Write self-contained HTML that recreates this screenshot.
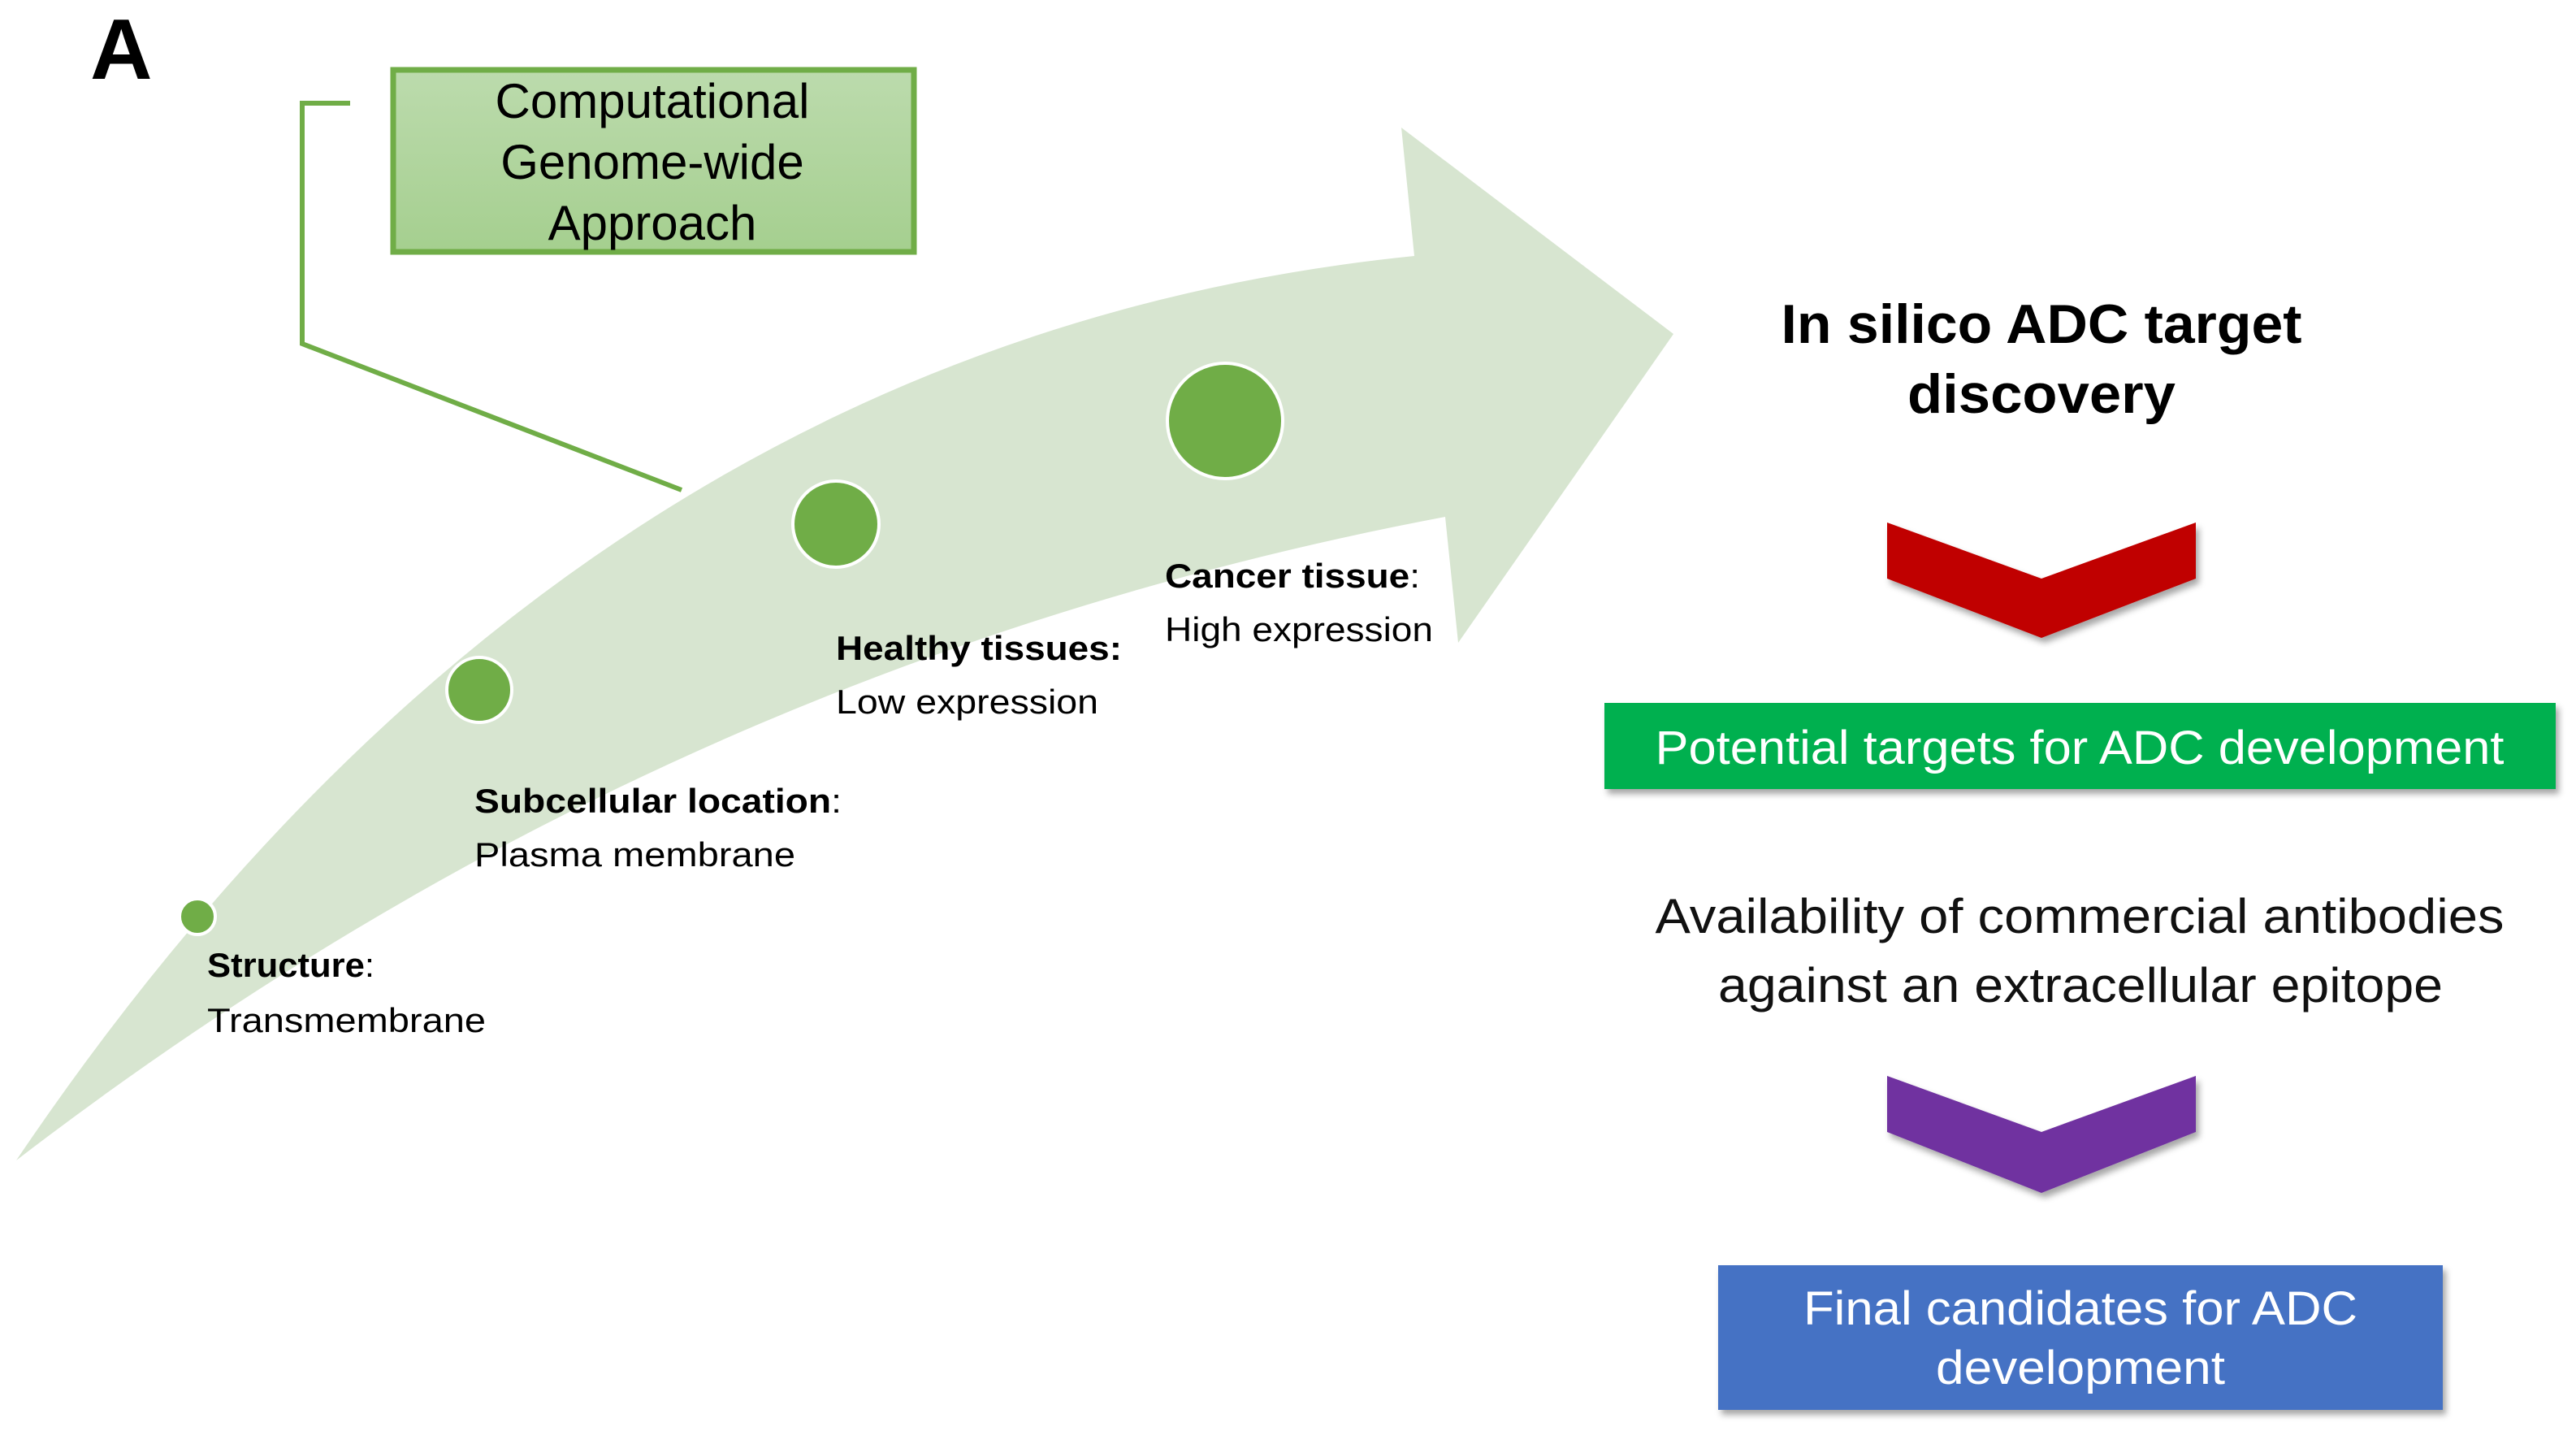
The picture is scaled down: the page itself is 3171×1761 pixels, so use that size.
<!DOCTYPE html>
<html><head><meta charset="utf-8"><style>
html,body{margin:0;padding:0;background:#fff;}
svg{display:block;}
</style></head><body>
<svg width="3171" height="1761" viewBox="0 0 3171 1761" xmlns="http://www.w3.org/2000/svg" font-family="Liberation Sans, Arial, sans-serif">
<defs>
<linearGradient id="gb" x1="0" y1="0" x2="0" y2="1"><stop offset="0" stop-color="#bcdbad"/><stop offset="1" stop-color="#a5cf8f"/></linearGradient>
<filter id="sh" x="-10%" y="-10%" width="130%" height="140%"><feDropShadow dx="4" dy="6" stdDeviation="4" flood-color="#000" flood-opacity="0.35"/></filter>
</defs>
<rect width="3171" height="1761" fill="#fff"/>
<!-- big arrow -->
<path d="M20,1428 Q700,420 1741,315 L1725,157 L2060,411 L1795,791 L1779,636 Q814,818 20,1428 Z" fill="#d7e5d0"/>
<!-- bracket line -->
<polyline points="431,127 372,127 372,423 839,603" fill="none" stroke="#70ad47" stroke-width="6"/>
<!-- A -->
<text x="111" y="97" font-size="106" font-weight="bold" fill="#000">A</text>
<!-- green box -->
<rect x="484" y="86" width="641" height="224" fill="url(#gb)" stroke="#70ad47" stroke-width="7"/>
<g font-size="60" fill="#000" text-anchor="middle">
<text x="803" y="145">Computational</text>
<text x="803" y="220">Genome-wide</text>
<text x="803" y="295">Approach</text>
</g>
<!-- circles -->
<g fill="#70ad47" stroke="#fff" stroke-width="4">
<circle cx="243" cy="1128" r="22"/>
<circle cx="590" cy="849" r="40"/>
<circle cx="1029" cy="645" r="53"/>
<circle cx="1508" cy="518" r="71"/>
</g>
<!-- labels -->
<g font-size="42" fill="#000">
<text x="255" y="1202" textLength="206" lengthAdjust="spacingAndGlyphs"><tspan font-weight="bold">Structure</tspan>:</text>
<text x="255" y="1270" textLength="343" lengthAdjust="spacingAndGlyphs">Transmembrane</text>
<text x="584" y="1000" textLength="452" lengthAdjust="spacingAndGlyphs"><tspan font-weight="bold">Subcellular location</tspan>:</text>
<text x="584" y="1066" textLength="395" lengthAdjust="spacingAndGlyphs">Plasma membrane</text>
<text x="1029" y="812" textLength="352" lengthAdjust="spacingAndGlyphs" font-weight="bold">Healthy tissues:</text>
<text x="1029" y="878" textLength="323" lengthAdjust="spacingAndGlyphs">Low expression</text>
<text x="1434" y="723" textLength="314" lengthAdjust="spacingAndGlyphs"><tspan font-weight="bold">Cancer tissue</tspan>:</text>
<text x="1434" y="789" textLength="330" lengthAdjust="spacingAndGlyphs">High expression</text>
</g>
<!-- right side -->
<g font-size="68" font-weight="bold" fill="#000" text-anchor="middle">
<text x="2513" y="422" textLength="641" lengthAdjust="spacingAndGlyphs">In silico ADC target</text>
<text x="2513" y="508" textLength="330" lengthAdjust="spacingAndGlyphs">discovery</text>
</g>
<polygon points="2323,643 2513,712 2703,643 2703,712 2513,785 2323,712" fill="#c00000" filter="url(#sh)"/>
<rect x="1975" y="865" width="1171" height="106" fill="#00b050" filter="url(#sh)"/>
<text x="2560" y="940" font-size="58" fill="#fff" text-anchor="middle" textLength="1045" lengthAdjust="spacingAndGlyphs">Potential  targets  for ADC development</text>
<g font-size="60" fill="#111" text-anchor="middle">
<text x="2560" y="1148" textLength="1045" lengthAdjust="spacingAndGlyphs">Availability of commercial antibodies</text>
<text x="2561" y="1233" textLength="892" lengthAdjust="spacingAndGlyphs">against an extracellular epitope</text>
</g>
<polygon points="2323,1324 2513,1393 2703,1324 2703,1393 2513,1468 2323,1393" fill="#7030a0" filter="url(#sh)"/>
<rect x="2115" y="1557" width="892" height="178" fill="#4472c4" filter="url(#sh)"/>
<g font-size="58" fill="#fff" text-anchor="middle">
<text x="2561" y="1630" textLength="682" lengthAdjust="spacingAndGlyphs">Final  candidates  for ADC</text>
<text x="2561" y="1703" textLength="356" lengthAdjust="spacingAndGlyphs">development</text>
</g>
</svg>
</body></html>
